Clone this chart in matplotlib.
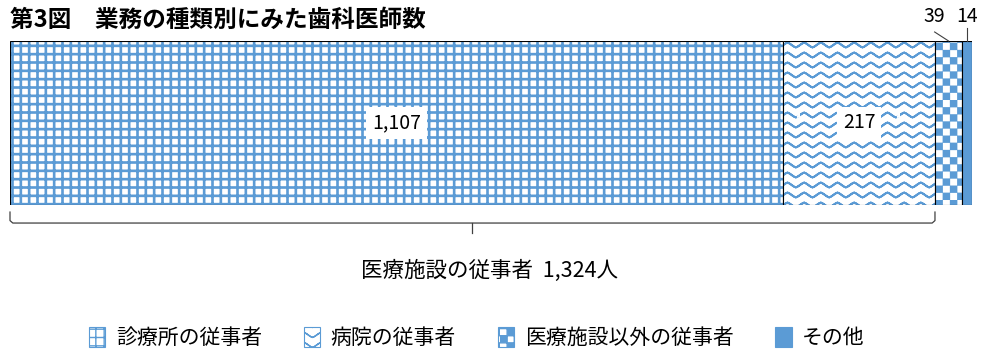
import warnings

import matplotlib
matplotlib.use("Agg")
import matplotlib.pyplot as plt
import matplotlib.hatch as mhatch
from matplotlib.patches import Patch
from matplotlib.path import Path
import numpy as np

# custom hatch characters ('~' wave, '#' checker) trip the hatch validator
warnings.filterwarnings("ignore", category=matplotlib.MatplotlibDeprecationWarning)

plt.rcParams["font.family"] = ["Noto Sans CJK JP", "DejaVu Sans"]

title = "第3図　業務の種類別にみた歯科医師数"
categories = ["診療所の従事者", "病院の従事者", "医療施設以外の従事者", "その他"]
values = [1107, 217, 39, 14]
facility_label = "医療施設の従事者"
unit = "人"

BLUE = "#5b9bd5"


class WaveHatch(mhatch.HatchPatternBase):
    """'~': horizontal wavy lines. Each row is traced out and back so the
    fill pass of the hatch renderer encloses no area."""
    rows = 10
    periods = 6
    steps = 12

    def __init__(self, hatch, density):
        self.n = self.periods * self.steps + 1
        self.num_rows = self.rows if "~" in hatch else 0
        self.num_vertices = self.num_rows * 2 * self.n

    def set_vertices_and_codes(self, vertices, codes):
        x = np.linspace(0, 1, self.n)
        phase = 2 * np.pi * self.periods * x
        # half sine, half triangle: slightly pointed crests
        w = 0.024 * (0.5 * np.sin(phase) + 0.5 * (2 / np.pi) * np.arcsin(np.sin(phase)))
        xs = np.concatenate([x, x[::-1]])
        ws = np.concatenate([w, w[::-1]])
        for i in range(self.num_rows):
            s = slice(i * 2 * self.n, (i + 1) * 2 * self.n)
            vertices[s, 0] = xs
            vertices[s, 1] = (i + 0.5) / self.num_rows + ws
            codes[s] = Path.LINETO
            codes[s.start] = Path.MOVETO


class CheckerHatch(mhatch.HatchPatternBase):
    """'#': filled checkerboard squares."""
    cells = 14

    def __init__(self, hatch, density):
        n = self.cells if "#" in hatch else 0
        self.squares = [(i, j) for i in range(n) for j in range(n) if (i + j) % 2 == 0]
        self.num_vertices = len(self.squares) * 5

    def set_vertices_and_codes(self, vertices, codes):
        s = 1 / self.cells
        for k, (i, j) in enumerate(self.squares):
            x0, y0 = i * s, j * s
            vertices[k * 5:(k + 1) * 5] = [(x0, y0), (x0 + s, y0), (x0 + s, y0 + s),
                                           (x0, y0 + s), (x0, y0)]
            codes[k * 5:(k + 1) * 5] = [Path.MOVETO, Path.LINETO, Path.LINETO,
                                        Path.LINETO, Path.CLOSEPOLY]


mhatch._hatch_types.extend([WaveHatch, CheckerHatch])

hatches = ["++", "~", "#", None]
hatch_lws = [1.9, 1.4, 0.2, 1.0]
faces = ["white", "white", "white", BLUE]

fig = plt.figure(figsize=(9.83, 3.51), dpi=100)
ax = fig.add_axes([10 / 983, (351 - 205) / 351, 962 / 983, 164 / 351])
total = sum(values)
ax.set_xlim(0, total)
ax.set_ylim(0, 1)
ax.axis("off")

lefts = np.concatenate([[0], np.cumsum(values)[:-1]])
for val, left, h, hlw, fc in zip(values, lefts, hatches, hatch_lws, faces):
    plt.rcParams["hatch.linewidth"] = hlw
    bars = ax.barh(0, val, left=left, height=1, align="edge", color=fc,
                   edgecolor=BLUE, linewidth=0, hatch=h)
    if hasattr(bars[0], "set_hatch_linewidth"):
        bars[0].set_hatch_linewidth(hlw)
    ax.barh(0, val, left=left, height=1, align="edge", fill=False,
            edgecolor="black", linewidth=0.8)

centers = lefts + np.array(values) / 2
# big segments: label inside on a white box
for c, v in zip(centers[:2], values[:2]):
    ax.text(c, 0.5, f"{v:,}", ha="center", va="center", fontsize=14,
            bbox=dict(boxstyle="square,pad=0.3", fc="white", ec="none"))

# small segments: label above with a leader line
ax.text(centers[2] - 21, 1.15, f"{values[2]:,}", ha="center", va="center",
        fontsize=14, clip_on=False)
ax.plot([centers[2] - 20, centers[2]], [1.055, 1.0], color="#404040", lw=0.8,
        clip_on=False)
ax.text(centers[3], 1.15, f"{values[3]:,}", ha="center", va="center",
        fontsize=14, clip_on=False)
ax.plot([centers[3], centers[3]], [1.08, 1.0], color="#404040", lw=0.8,
        clip_on=False)

# brace under the medical-facility segments
fac = values[0] + values[1]
mid = fac / 2
ax.plot([0, 0, 4, fac - 4, fac, fac], [-0.043, -0.095, -0.11, -0.11, -0.095, -0.043],
        color="#404040", lw=0.9, clip_on=False)
ax.plot([mid, mid], [-0.11, -0.17], color="#404040", lw=0.9, clip_on=False)
ax.text(mid + 25, -0.40, f"{facility_label}  {fac:,}{unit}", ha="center",
        va="center", fontsize=15.5, clip_on=False)

fig.text(10 / 983, 1 - 20 / 351, title, ha="left", va="center", fontsize=17,
         fontweight="bold")

handles = []
for h, hlw, fc in zip(hatches, hatch_lws, faces):
    plt.rcParams["hatch.linewidth"] = hlw
    p = Patch(facecolor=fc, edgecolor=BLUE, hatch=h, linewidth=0.8)
    if hasattr(p, "set_hatch_linewidth"):
        p.set_hatch_linewidth(hlw)
    handles.append(p)
fig.legend(handles, categories, loc="center", bbox_to_anchor=(0.485, 0.037),
           ncol=4, frameon=False, fontsize=15, handlelength=0.8, handleheight=1.1,
           handletextpad=0.5, columnspacing=2.0)

fig.savefig("out.png", dpi=100)
plt.close(fig)
